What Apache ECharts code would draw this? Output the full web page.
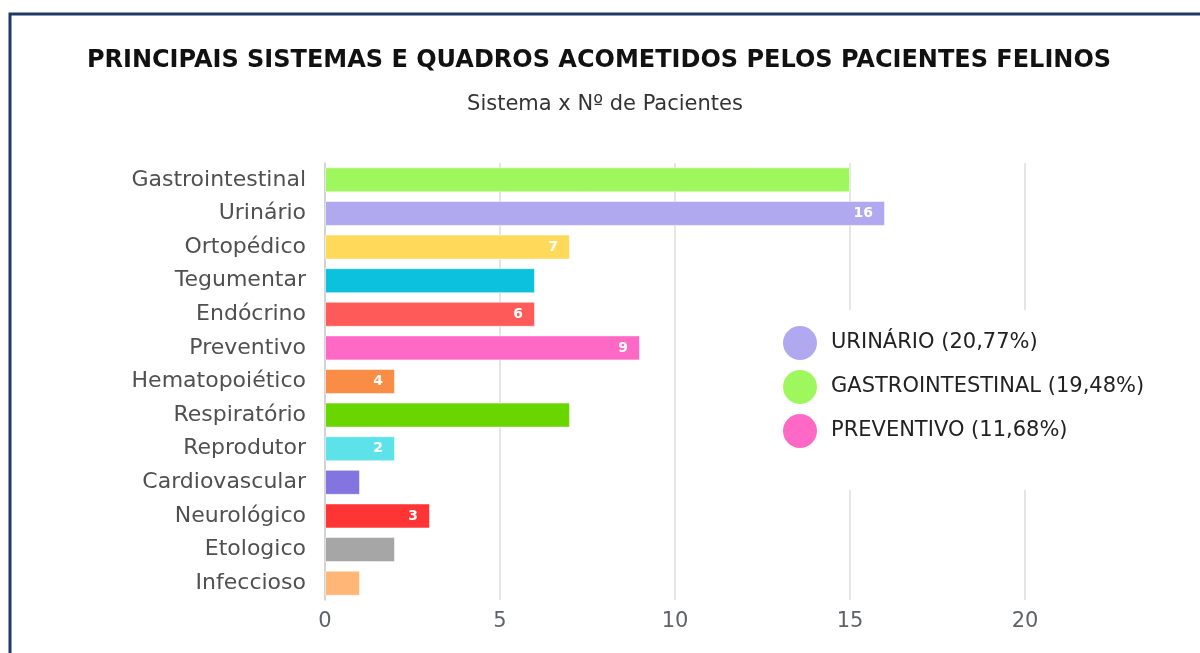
<!DOCTYPE html>
<html>
<head>
<meta charset="utf-8">
<title>Sistemas felinos</title>
<script src="https://cdn.jsdelivr.net/npm/echarts@6/dist/echarts.min.js"></script>
<style>
  html, body { margin: 0; padding: 0; background: #fff; }
  #chart { width: 1200px; height: 653px; }
</style>
</head>
<body>
<div id="chart"></div>
<script>
// dados
const categorias = [
  'Gastrointestinal', 'Urinário', 'Ortopédico', 'Tegumentar', 'Endócrino',
  'Preventivo', 'Hematopoiético', 'Respiratório', 'Reprodutor',
  'Cardiovascular', 'Neurológico', 'Etologico', 'Infeccioso'
]
const pacientes = [15, 16, 7, 6, 6, 9, 2, 7, 2, 1, 3, 2, 1]
// rótulos que aparecem dentro das barras (como no original)
const rotulos = ['', '16', '7', '', '6', '9', '4', '', '2', '', '3', '', '']
const cores = [
  '#9ef75c', '#b1a9f0', '#ffd95a', '#0bc1de', '#ff5a5a',
  '#ff69c6', '#f98d46', '#6ad600', '#5ce2e8',
  '#8275e0', '#ff3434', '#a6a6a6', '#ffb677'
]
const legendaNomes = ['URINÁRIO (20,77%)', 'GASTROINTESTINAL (19,48%)', 'PREVENTIVO (11,68%)']
const legendaCores = ['#b1a9f0', '#9ef75c', '#ff69c6']
const xTicks = [0, 5, 10, 15, 20]

const fonte = '"DejaVu Sans", "Open Sans", sans-serif'

const chart = echarts.init(document.getElementById('chart'))

const series = [
  {
    type: 'bar',
    data: pacientes.map((v, i) => ({ value: v, itemStyle: { color: cores[i] } })),
    barWidth: 25,
    itemStyle: { borderColor: 'rgba(255,255,255,0.5)', borderWidth: 1 },
    label: {
      show: true,
      position: 'insideRight',
      distance: 12,
      color: '#fff',
      fontWeight: 'bold',
      fontSize: 14,
      fontFamily: fonte,
      formatter: (p) => rotulos[p.dataIndex],
    },
    z: 3,
  },
]
// séries vazias só para a legenda
legendaNomes.forEach((nome, i) => {
  series.push({
    type: 'line',
    name: nome,
    data: [],
    itemStyle: { color: legendaCores[i] },
  })
})

const option = {
  backgroundColor: '#fff',
  animation: false,
  textStyle: { fontFamily: fonte },
  title: [
    {
      text: 'PRINCIPAIS SISTEMAS E QUADROS ACOMETIDOS PELOS PACIENTES FELINOS',
      left: 594,
      textAlign: 'center',
      top: 44,
      textStyle: { fontSize: 24, fontWeight: 'bold', color: '#111', fontFamily: fonte },
    },
    {
      text: 'Sistema x Nº de Pacientes',
      left: 600,
      textAlign: 'center',
      top: 89,
      textStyle: { fontSize: 21, fontWeight: 'normal', color: '#333', fontFamily: fonte },
    },
  ],
  grid: { left: 325, right: 175, top: 163, bottom: 53, containLabel: false },
  xAxis: {
    type: 'value',
    min: xTicks[0],
    max: xTicks[xTicks.length - 1],
    interval: 5,
    axisLine: { show: false },
    axisTick: { show: false },
    splitLine: { lineStyle: { color: '#dcdcdc', width: 1.5 } },
    axisLabel: { fontSize: 21, color: '#5f6368', margin: 11, fontFamily: fonte },
  },
  yAxis: {
    type: 'category',
    inverse: true,
    data: categorias,
    axisLine: { show: true, lineStyle: { color: '#cccccc', width: 1.5 } },
    axisTick: { show: false },
    axisLabel: { fontSize: 22, color: '#505050', margin: 19, fontFamily: fonte },
  },
  legend: {
    data: legendaNomes,
    orient: 'vertical',
    left: 768,
    top: 310,
    icon: 'circle',
    itemWidth: 34,
    itemHeight: 34,
    itemGap: 10,
    padding: [16, 12, 42, 15],
    backgroundColor: '#fff',
    selectedMode: false,
    textStyle: { fontSize: 21, color: '#222', fontFamily: fonte, padding: [0, 0, 0, 9] },
  },
  graphic: [
    {
      type: 'rect',
      shape: { x: 10, y: 14, width: 1400, height: 900 },
      style: { fill: 'none', stroke: '#1f3864', lineWidth: 3 },
      z: 100,
    },
  ],
  series: series,
}

chart.setOption(option)
</script>
</body>
</html>
